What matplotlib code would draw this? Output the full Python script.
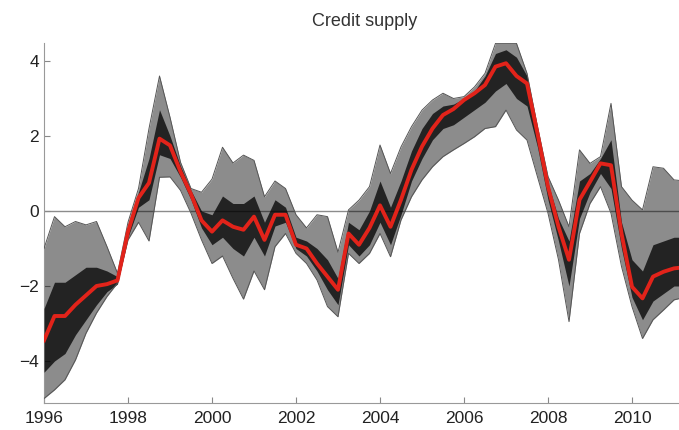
import matplotlib
matplotlib.use('Agg')
import matplotlib.pyplot as plt
import numpy as np

plt.rcParams['font.family'] = ['Liberation Sans', 'DejaVu Sans']

# quarterly dates, 1996Q1 .. 2011Q2
quarters = np.arange(1996.0, 2011.30, 0.25)

# red median line
median = [-3.45, -2.8, -2.8, -2.5, -2.25, -2.0, -1.95, -1.85,
          -0.55, 0.35, 0.75, 1.93, 1.75, 1.05, 0.45, -0.25,
          -0.55, -0.25, -0.42, -0.5, -0.15, -0.77, -0.1, -0.1,
          -0.9, -1.0, -1.4, -1.75, -2.1, -0.6, -0.9, -0.45,
          0.15, -0.42, 0.3, 1.1, 1.72, 2.2, 2.56, 2.72,
          2.96, 3.14, 3.36, 3.85, 3.94, 3.6, 3.4, 2.07,
          0.65, -0.42, -1.3, 0.3, 0.78, 1.27, 1.22, -0.6,
          -2.02, -2.33, -1.75, -1.62, -1.53, -1.5]

# outer envelope of the draws
upper = [-1.0, -0.15, -0.42, -0.28, -0.37, -0.28, -0.95, -1.66,
         -0.3, 0.6, 2.2, 3.6, 2.5, 1.3, 0.6, 0.5,
         0.85, 1.7, 1.28, 1.49, 1.35, 0.38, 0.8, 0.6,
         -0.1, -0.45, -0.1, -0.15, -1.1, 0.03, 0.29, 0.65,
         1.76, 1.0, 1.71, 2.25, 2.69, 2.96, 3.14, 3.0,
         3.05, 3.31, 3.67, 4.47, 4.47, 4.47, 3.67, 2.25,
         0.92, 0.29, -0.42, 1.63, 1.27, 1.45, 2.87, 0.65,
         0.29, 0.03, 1.18, 1.14, 0.83, 0.8]
lower = [-5.0, -4.77, -4.5, -3.97, -3.26, -2.72, -2.28, -1.92,
         -0.77, -0.3, -0.8, 0.9, 0.91, 0.55, -0.06, -0.77,
         -1.4, -1.2, -1.8, -2.35, -1.6, -2.1, -0.95, -0.6,
         -1.13, -1.4, -1.84, -2.55, -2.82, -1.13, -1.4, -1.13,
         -0.6, -1.22, -0.24, 0.38, 0.83, 1.18, 1.45, 1.63,
         1.8, 1.98, 2.2, 2.25, 2.69, 2.16, 1.89, 0.91,
         -0.06, -1.3, -2.95, -0.6, 0.2, 0.65, -0.06, -1.48,
         -2.55, -3.4, -2.9, -2.64, -2.37, -2.3]

# dense dark core of the draws
core_lo = [-4.3, -4.0, -3.8, -3.3, -2.9, -2.5, -2.15, -1.95,
           -0.7, 0.1, 0.3, 1.5, 1.4, 0.9, 0.3, -0.45,
           -0.9, -0.7, -1.0, -1.2, -0.7, -1.2, -0.4, -0.3,
           -1.0, -1.2, -1.6, -2.1, -2.5, -0.9, -1.2, -0.9,
           -0.3, -0.9, -0.1, 0.8, 1.4, 1.9, 2.2, 2.3,
           2.5, 2.7, 2.9, 3.2, 3.4, 3.0, 2.8, 1.7,
           0.3, -0.8, -2.0, -0.2, 0.5, 1.0, 0.6, -1.0,
           -2.3, -2.9, -2.4, -2.2, -2.0, -2.0]
core_hi = [-2.6, -1.9, -1.9, -1.7, -1.5, -1.5, -1.6, -1.75,
           -0.4, 0.5, 1.4, 2.7, 2.0, 1.2, 0.55, 0.0,
           -0.1, 0.4, 0.2, 0.2, 0.4, -0.3, 0.3, 0.1,
           -0.7, -0.8, -1.0, -1.3, -1.8, -0.3, -0.5, 0.0,
           0.8, 0.1, 0.8, 1.6, 2.2, 2.6, 2.8, 2.85,
           3.0, 3.2, 3.6, 4.2, 4.3, 4.1, 3.6, 2.2,
           0.75, -0.2, -0.8, 0.8, 1.0, 1.4, 1.9, -0.3,
           -1.3, -1.6, -0.9, -0.8, -0.7, -0.7]

x_ticks = [1996, 1998, 2000, 2002, 2004, 2006, 2008, 2010]
y_ticks = [-4, -2, 0, 2, 4]

fig = plt.figure(figsize=(6.79, 4.30), dpi=100)
ax = fig.add_axes([44 / 679, 27 / 430, 1 - 44 / 679, (403 - 43) / 430])

ax.axhline(0, color='#8c8c8c', lw=1.0, zorder=1)

ax.fill_between(quarters, lower, upper, color='black', alpha=0.45, lw=0, zorder=2)
ax.fill_between(quarters, core_lo, core_hi, color='black', alpha=0.75, lw=0, zorder=3)
for edge in (lower, upper):
    ax.plot(quarters, edge, color='#555555', lw=0.7, zorder=3)
ax.plot(quarters, median, color='#e2231a', lw=2.8, zorder=5)

ax.set_xlim(1996, 1996 + 635 / 42)
ax.set_ylim(-5.12, 4.48)
ax.set_xticks(x_ticks)
ax.set_yticks(y_ticks)
ax.tick_params(direction='in', length=4, color='#888888', labelsize=12.5,
               labelcolor='#222222')
ax.tick_params(axis='x', pad=6)
for side in ('top', 'right'):
    ax.spines[side].set_visible(False)
for side in ('left', 'bottom'):
    ax.spines[side].set_color('#999999')

ax.set_title('Credit supply', fontsize=13, color='#333333', pad=12, x=0.505)

fig.savefig('out.png', dpi=100)
